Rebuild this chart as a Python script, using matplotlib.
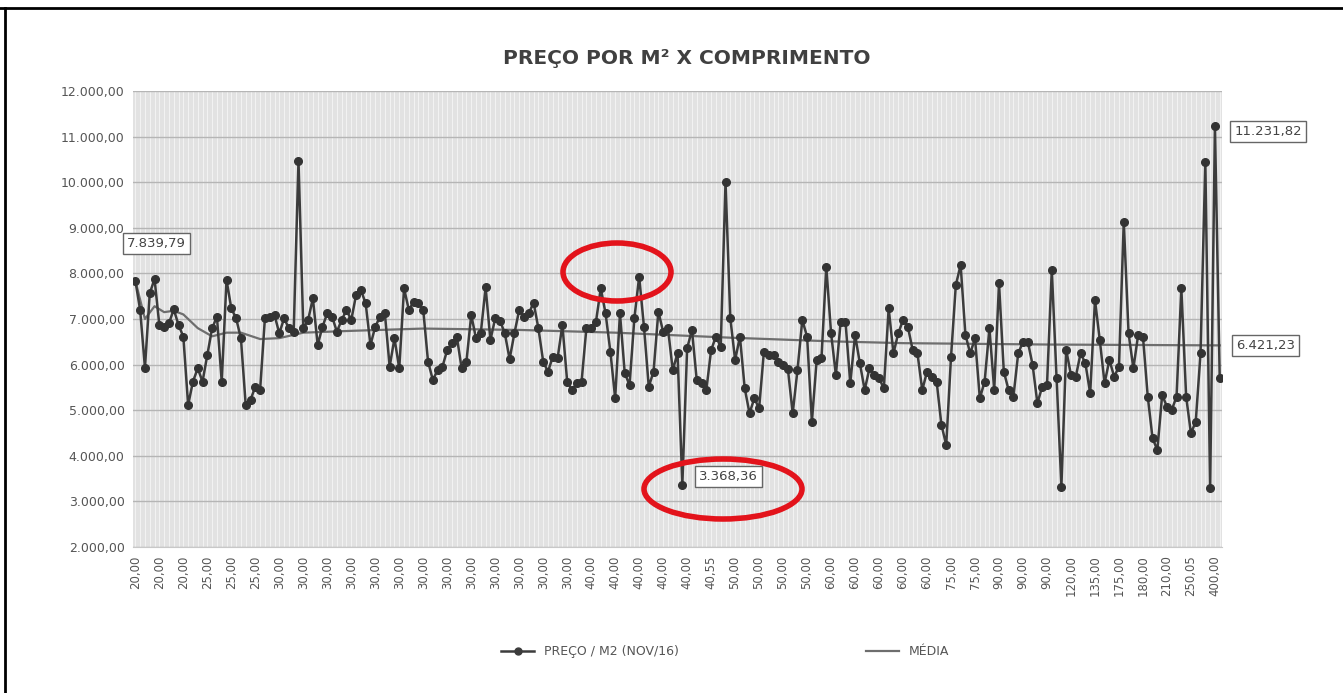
import matplotlib.pyplot as plt
from matplotlib.patches import Ellipse
from matplotlib.lines import Line2D

# preço por m2 (nov/16)
preco = [
    7840, 7197, 5930, 7563, 7877, 6868, 6832, 6905, 7212, 6868,
    6612, 5114, 5626, 5918, 5626, 6211, 6796, 7051, 5626, 7855,
    7233, 7014, 6576, 5114, 5224, 5517, 5443, 7014, 7051, 7087,
    6685, 7014, 6795, 6722, 10474, 6795, 6978, 7453, 6429, 6832,
    7124, 7051, 6722, 6978, 7197, 6978, 7526, 7636, 7343, 6429,
    6832, 7051, 7124, 5955, 6576, 5918, 7672, 7197, 7380, 7343,
    7197, 6065, 5663, 5882, 5955, 6320, 6467, 6613, 5918, 6065,
    7087, 6576, 6700, 7694, 6540, 7014, 6960, 6686, 6120, 6686,
    7197, 7051, 7124, 7358, 6796, 6065, 5845, 6174, 6138, 6869,
    5626, 5443, 5590, 5626, 6796, 6796, 6942, 7672, 7124, 6284,
    5260, 7124, 5809, 5553, 7015, 7928, 6832, 5516, 5845, 7161,
    6722, 6796, 5882, 6247, 3368, 6357, 6759, 5663, 5590, 5443,
    6320, 6613, 6393, 10003, 7014, 6101, 6613, 5480, 4932, 5260,
    5041, 6284, 6211, 6211, 6065, 5992, 5900, 4932, 5882, 6978,
    6613, 4749, 6101, 6138, 8147, 6686, 5772, 6942, 6942, 5590,
    6650, 6028, 5443, 5918, 5772, 5699, 5480, 7234, 6247, 6686,
    6978, 6832, 6320, 6247, 5443, 5845, 5736, 5626, 4676, 4237,
    6174, 7745, 8184, 6650, 6247, 6576, 5260, 5626, 6796, 5443,
    7782, 5845, 5443, 5297, 6247, 6503, 6503, 5992, 5151, 5516,
    5553, 8074, 5699, 3323, 6320, 5772, 5736, 6247, 6028, 5370,
    7416, 6540, 5590, 6101, 5736, 5955, 9134, 6686, 5918, 6650,
    6613, 5297, 4383, 4127, 5333, 5078, 5005, 5297, 7672, 5297,
    4493, 4749, 6247, 10450, 3287, 11232, 5699,
]

# comprimento (rótulo a cada 5 categorias)
rotulos = (["20,00"] * 3 + ["25,00"] * 3 + ["30,00"] * 13 + ["40,00"] * 5
           + ["40,55"] + ["50,00"] * 4 + ["60,00"] * 5 + ["75,00"] * 2
           + ["90,00"] * 3 + ["120,00", "135,00", "175,00", "180,00",
                             "210,00", "250,05", "400,00"])

# linha da média, lida em alguns pontos
media_idx = [0, 2, 4, 6, 8, 10, 13, 16, 19, 22, 26, 30, 35, 45, 60, 80,
             100, 124, 145, 160, 190, 226]
media_val = [7840, 7000, 7280, 7150, 7180, 7100, 6800, 6620, 6700, 6700,
             6560, 6580, 6700, 6740, 6790, 6760, 6700, 6590, 6510, 6470,
             6440, 6421]

n = len(preco)
x = list(range(n))

fig = plt.figure(figsize=(13.43, 6.93), dpi=100)
ax = fig.add_axes([0.099, 0.2107, 0.811, 0.658])
ax.set_facecolor("#e2e2e2")

for i in range(n):
    ax.axvline(i, color="#f3f3f3", lw=0.7, zorder=0)
ax.set_ylim(2000, 12000)
ax.set_xlim(-0.5, n - 0.5)
ax.set_yticks(range(2000, 12001, 1000))
ax.set_yticklabels([f"{v // 1000}.000,00" for v in range(2000, 12001, 1000)],
                   color="#555555", fontsize=9)
ax.yaxis.grid(True, color="#b5b5b5", lw=1)
ax.set_axisbelow(True)
ax.set_xticks(range(0, n, 5))
ax.set_xticklabels(rotulos, rotation=90, fontsize=8.5, color="#555555")
ax.tick_params(length=0, pad=6)
for s in ["top", "right", "left"]:
    ax.spines[s].set_visible(False)
ax.spines["bottom"].set_color("#c8c8c8")

ax.plot(x, preco, color="#3c3c3c", lw=1.8, marker="o", ms=5.5,
        markerfacecolor="#333333", markeredgecolor="#333333", zorder=3)
ax.plot(media_idx, media_val, color="#6e6e6e", lw=1.6, zorder=2)

caixa = dict(boxstyle="square,pad=0.3", fc="white", ec="#666666", lw=1)
ax.annotate("7.839,79", (0, preco[0]), xytext=(-6, 24), textcoords="offset points",
            fontsize=9.5, color="#444444", bbox=caixa, ha="left")
ax.annotate("11.231,82", (n - 2, preco[n - 2]), xytext=(14, -4), textcoords="offset points",
            fontsize=9.5, color="#444444", bbox=caixa, ha="left", va="center")
ax.annotate("6.421,23", (n - 1, media_val[-1]), xytext=(12, 0), textcoords="offset points",
            fontsize=9.5, color="#444444", bbox=caixa, ha="left", va="center")
ax.annotate("3.368,36", (114, 3368), xytext=(12, 6), textcoords="offset points",
            fontsize=9.5, color="#444444", bbox=caixa, ha="left", va="center")

# marcações em vermelho
fig.patches.append(Ellipse((617 / 1343, 1 - 272 / 693), 108 / 1343, 58 / 693,
                           transform=fig.transFigure, fill=False, ec="#e3131b", lw=4))
fig.patches.append(Ellipse((723 / 1343, 1 - 489 / 693), 158 / 1343, 60 / 693,
                           transform=fig.transFigure, fill=False, ec="#e3131b", lw=4))

fig.text(0.511, 0.916, "PREÇO POR M² X COMPRIMENTO", ha="center", va="center",
         fontsize=14.5, fontweight="bold", color="#404040")

h1 = Line2D([], [], color="#3c3c3c", lw=1.8, marker="o", ms=5)
h2 = Line2D([], [], color="#6e6e6e", lw=1.6)
fig.legend([h1, h2], ["PREÇO / M2 (NOV/16)", "MÉDIA"], loc="center",
           bbox_to_anchor=(0.54, 0.06), ncol=2, frameon=False, fontsize=9,
           columnspacing=15, handlelength=2.6, labelcolor="#555555")

# moldura da imagem
fig.add_artist(Line2D([0, 1], [1 - 8 / 693, 1 - 8 / 693], transform=fig.transFigure,
                      color="black", lw=2))
fig.add_artist(Line2D([5 / 1343, 5 / 1343], [0, 1 - 8 / 693], transform=fig.transFigure,
                      color="black", lw=2))

fig.savefig("out.png", dpi=100)
